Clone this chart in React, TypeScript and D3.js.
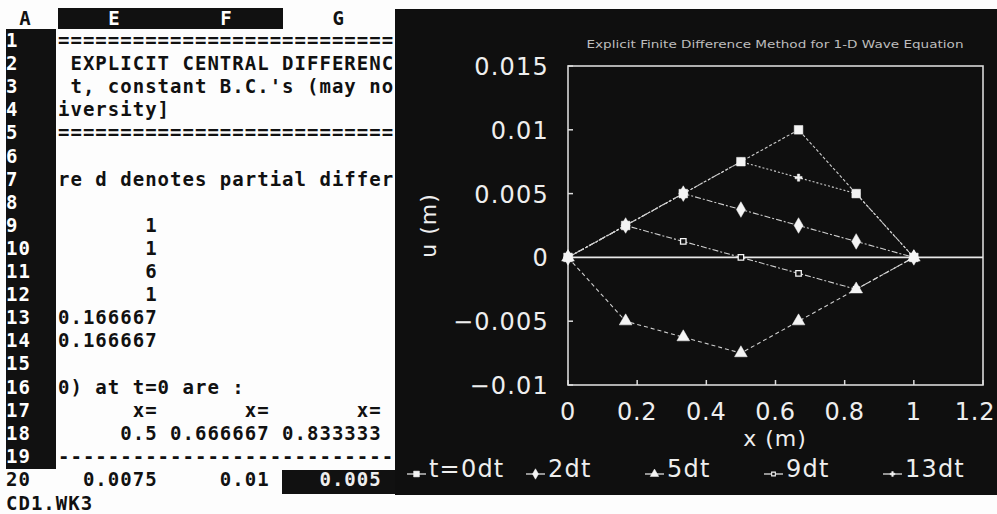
import React from "react";
import * as d3 from "d3";

// grid points (dx = 1/6) and u(x) for each time level
const xs = [0, 1 / 6, 2 / 6, 3 / 6, 4 / 6, 5 / 6, 1];
const u0 = [0, 0.0025, 0.005, 0.0075, 0.01, 0.005, 0];
const u2 = [0, 0.0025, 0.005, 0.00375, 0.0025, 0.00125, 0];
const u5 = [0, -0.005, -0.00625, -0.0075, -0.005, -0.0025, 0];
const u9 = [0, 0.0025, 0.00125, 0, -0.00125, -0.0025, 0];
const u13 = [0, 0.0025, 0.005, 0.0075, 0.00625, 0.005, 0];
const seriesNames = ["t=0dt", "2dt", "5dt", "9dt", "13dt"];
const xTicks = [0, 0.2, 0.4, 0.6, 0.8, 1, 1.2];
const yTicks = [-0.01, -0.005, 0, 0.005, 0.01, 0.015];

// spreadsheet text behind the chart (row number, cell text)
const sheetRows: [number, string][] = [
  [1, "==========================="],
  [2, " EXPLICIT CENTRAL DIFFERENC"],
  [3, " t, constant B.C.'s (may no"],
  [4, "iversity]"],
  [5, "==========================="],
  [7, "re d denotes partial differ"],
  [9, "       1"],
  [10, "       1"],
  [11, "       6"],
  [12, "       1"],
  [13, "0.166667"],
  [14, "0.166667"],
  [16, "0) at t=0 are :"],
  [17, "      x=       x=       x="],
  [18, "     0.5 0.666667 0.833333"],
  [19, "---------------------------"],
  [20, "  0.0075     0.01"],
];
const sheetCols = ["E", "F", "G"];

const series = [u0, u2, u5, u9, u13];
const symbolTypes = [d3.symbolSquare, d3.symbolDiamond, d3.symbolTriangle, d3.symbolSquare, d3.symbolCross];
const symbolSizes = [75, 70, 70, 30, 28];
const symbolFilled = [true, true, true, false, true];
const dashes = ["3,2", "6,2,2,2", "4,3", "6,2,2,2", "2,2"];

const MONO = "'DejaVu Sans Mono', monospace";
const SANS = "'DejaVu Sans', sans-serif";
const cw = 12.45;
const col0 = 58;
const rowY = (r: number) => 40 + (r - 1) * 23.1;

export default function App() {
  const x = d3.scaleLinear().domain([0, 1.2]).range([568, 983]);
  const y = d3.scaleLinear().domain([-0.01, 0.015]).range([385, 66]);
  const fmt = d3.format("~g");

  const line = d3
    .line<number>()
    .x((d, i) => x(xs[i]))
    .y((d) => y(d));

  const legendX = d3.scaleLinear().domain([0, 4]).range([407, 883]);

  const sym = (i: number, scale = 1) =>
    d3.symbol().type(symbolTypes[i]).size(symbolSizes[i] * scale)() || "";

  const monoStyle = { whiteSpace: "pre" as const, letterSpacing: "1.01px" };

  return (
    <svg
      width={997}
      height={514}
      style={{ position: "absolute", left: 0, top: 0, background: "#fff" }}
    >
      <rect width={997} height={514} fill="#fdfdfd" />

      {/* spreadsheet header row */}
      <text x={25} y={25} fontFamily={MONO} fontWeight="bold" fontSize={19} fill="#111" textAnchor="middle">
        A
      </text>
      <rect x={58} y={8} width={225} height={21} fill="#111" />
      {sheetCols.map((c, i) => (
        <text
          key={c}
          x={col0 + (i + 0.5) * 9 * cw}
          y={25}
          fontFamily={MONO}
          fontWeight="bold"
          fontSize={19}
          fill={i < 2 ? "#fff" : "#111"}
          textAnchor="middle"
        >
          {c}
        </text>
      ))}

      {/* row numbers */}
      <rect x={6} y={29} width={50} height={440} fill="#111" />
      {d3.range(1, 21).map((r) => (
        <text
          key={r}
          x={6}
          y={rowY(r) + 7}
          fontFamily={MONO}
          fontWeight="bold"
          fontSize={19}
          fill={r < 20 ? "#fff" : "#111"}
          style={monoStyle}
        >
          {r}
        </text>
      ))}

      {sheetRows.map(([r, t]) => (
        <text
          key={r}
          x={col0}
          y={rowY(r) + 7}
          fontFamily={MONO}
          fontWeight="bold"
          fontSize={19}
          fill="#111"
          style={monoStyle}
        >
          {t}
        </text>
      ))}

      {/* current cell G20 */}
      <rect x={282} y={470} width={120} height={24} fill="#111" />
      <text
        x={col0 + 21 * cw}
        y={rowY(20) + 7}
        fontFamily={MONO}
        fontWeight="bold"
        fontSize={19}
        fill="#eee"
        style={monoStyle}
      >
        0.005
      </text>
      <text x={6} y={510} fontFamily={MONO} fontWeight="bold" fontSize={19} fill="#111" style={monoStyle}>
        CD1.WK3
      </text>

      {/* chart panel */}
      <rect x={395} y={9} width={602} height={486} fill="#0f0f0f" />

      <text
        x={775}
        y={48}
        fontFamily={SANS}
        fontSize={11}
        fill="#bdbdbd"
        textAnchor="middle"
        textLength={377}
        lengthAdjust="spacingAndGlyphs"
      >
        Explicit Finite Difference Method for 1-D Wave Equation
      </text>

      {/* frame */}
      <rect
        x={x(0)}
        y={y(0.015)}
        width={x(1.2) - x(0)}
        height={y(-0.01) - y(0.015)}
        fill="none"
        stroke="#d8d8d8"
        strokeWidth={1.6}
      />
      <line x1={x(0)} x2={x(1.2)} y1={y(0)} y2={y(0)} stroke="#e8e8e8" strokeWidth={1.6} />

      {/* y axis */}
      {yTicks.map((t) => (
        <g key={t}>
          <line x1={x(0)} x2={x(0) + 5} y1={y(t)} y2={y(t)} stroke="#ddd" strokeWidth={1.5} />
          <text
            x={549}
            y={y(t) + 9}
            fontFamily={SANS}
            fontSize={24}
            fill="#eee"
            textAnchor="end"
            letterSpacing="1.2"
          >
            {fmt(t)}
          </text>
        </g>
      ))}

      {/* x axis */}
      {xTicks.map((t) => (
        <g key={t}>
          <line x1={x(t)} x2={x(t)} y1={y(-0.01)} y2={y(-0.01) - 5} stroke="#ddd" strokeWidth={1.5} />
          <text
            x={Math.min(x(t), 975)}
            y={420}
            fontFamily={SANS}
            fontSize={24}
            fill="#eee"
            textAnchor="middle"
            letterSpacing="0.8"
          >
            {fmt(t)}
          </text>
        </g>
      ))}

      <text x={775} y={446} fontFamily={SANS} fontSize={22} fill="#eee" textAnchor="middle" letterSpacing="1">
        x (m)
      </text>
      <text
        transform={`translate(436, ${(y(0.015) + y(-0.01)) / 2}) rotate(-90)`}
        fontFamily={SANS}
        fontSize={22}
        fill="#eee"
        textAnchor="middle"
        letterSpacing="1"
      >
        u (m)
      </text>

      {/* series lines */}
      {series
        .map((s, i) => (
          <path
            key={"l" + i}
            d={line(s) || ""}
            fill="none"
            stroke="#cfcfcf"
            strokeWidth={1.1}
            strokeDasharray={dashes[i]}
          />
        ))
        .reverse()}

      {/* markers */}
      {series
        .map((s, i) => (
          <g key={"m" + i}>
            {s.map((v, j) => (
              <path
                key={j}
                d={sym(i)}
                transform={`translate(${x(xs[j])},${y(v)})`}
                fill={symbolFilled[i] ? "#f4f4f4" : "#111"}
                stroke="#f4f4f4"
                strokeWidth={symbolFilled[i] ? 0.5 : 1.3}
              />
            ))}
          </g>
        ))
        .reverse()}

      {/* legend */}
      {seriesNames.map((n, i) => {
        const lx = legendX(i);
        return (
          <g key={n}>
            <line x1={lx} x2={lx + 19} y1={474} y2={474} stroke="#ddd" strokeWidth={1.3} />
            <path
              d={sym(i, 0.45)}
              transform={`translate(${lx + 9.5},474)`}
              fill={symbolFilled[i] ? "#f4f4f4" : "#111"}
              stroke="#f4f4f4"
              strokeWidth={symbolFilled[i] ? 0.5 : 1.1}
            />
            <text x={lx + 22} y={477} fontFamily={SANS} fontSize={24} fill="#eee" letterSpacing="1.2">
              {n}
            </text>
          </g>
        );
      })}
    </svg>
  );
}
